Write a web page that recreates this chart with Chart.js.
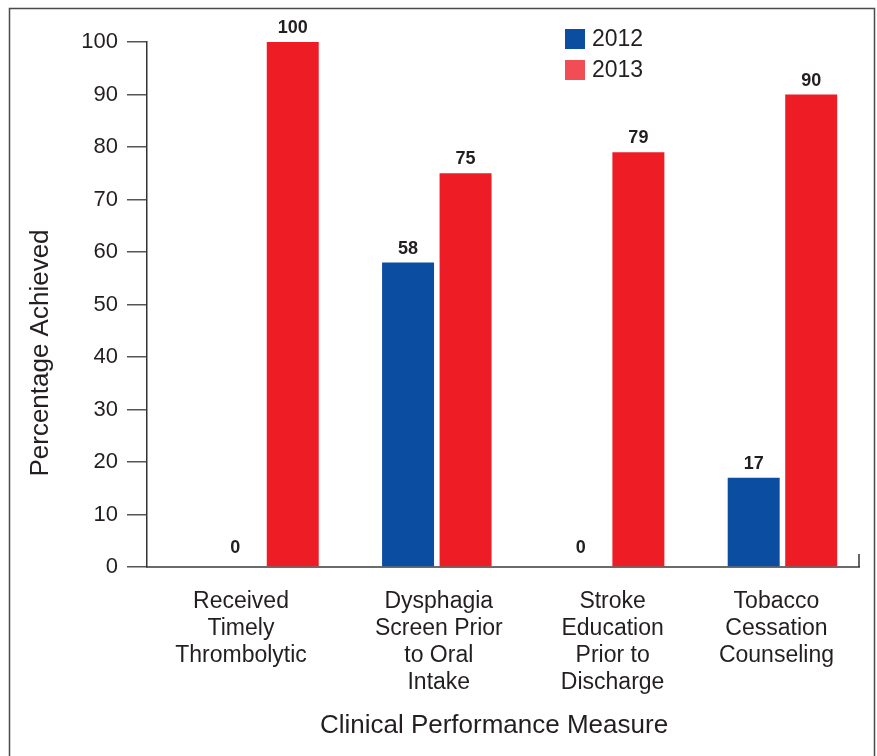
<!DOCTYPE html>
<html>
<head>
<meta charset="utf-8">
<script src="https://cdn.jsdelivr.net/npm/chart.js@4.4.1/dist/chart.umd.min.js"></script>
<style>
  html, body { margin: 0; padding: 0; background: #ffffff; }
  #wrap { width: 877px; height: 756px; position: relative; }
</style>
</head>
<body>
<div id="wrap"><canvas id="c" width="877" height="756"></canvas></div>
<script>
// ---- data ----
const categories = [
  ['Received', 'Timely', 'Thrombolytic'],
  ['Dysphagia', 'Screen Prior', 'to Oral', 'Intake'],
  ['Stroke', 'Education', 'Prior to', 'Discharge'],
  ['Tobacco', 'Cessation', 'Counseling']
];
const seriesNames = ['2012', '2013'];
const values2012 = [0, 58, 0, 17];
const values2013 = [100, 75, 79, 90];
const yTicks = [0, 10, 20, 30, 40, 50, 60, 70, 80, 90, 100];
const yTitle = 'Percentage Achieved';
const xTitle = 'Clinical Performance Measure';

// ---- styles ----
const FONT = "'Liberation Sans', Arial, Helvetica, sans-serif";
const TEXT = '#231f20';
const BLUE = '#0b4da1';
const RED = '#ee1d25';
const LEGEND_COLORS = ['#0c4da2', '#f04d54'];
const labelShift = [-23, 2, 3, -6];

const framePlugin = {
  id: 'frame',
  beforeDraw(chart) {
    const ctx = chart.ctx;
    ctx.save();
    ctx.strokeStyle = '#4a4a4a';
    ctx.lineWidth = 1.5;
    ctx.strokeRect(9.5, 8.5, 865, 770);
    ctx.restore();
    // shift x labels slightly (as in reference layout)
    const xs = chart.scales.x;
    const items = xs.getLabelItems(chart.chartArea);
    if (items && !items._shifted) {
      items.forEach((it, i) => { it.options.translation[0] += (labelShift[i] || 0); });
      items._shifted = true;
    }
  },
  afterDraw(chart) {
    const ctx = chart.ctx;
    const area = chart.chartArea;
    ctx.save();
    // small end tick on x axis
    ctx.strokeStyle = '#333';
    ctx.lineWidth = 1.5;
    ctx.beginPath();
    ctx.moveTo(area.right, area.bottom);
    ctx.lineTo(area.right, area.bottom - 13);
    ctx.stroke();
    // axis titles
    ctx.fillStyle = TEXT;
    ctx.font = '26px ' + FONT;
    ctx.textAlign = 'center';
    ctx.textBaseline = 'alphabetic';
    ctx.fillText(xTitle, 494, 733);
    ctx.translate(48, 353);
    ctx.rotate(-Math.PI / 2);
    ctx.font = '26px ' + FONT;
    ctx.fillText(yTitle, 0, 0);
    ctx.restore();
    // legend
    ctx.save();
    ctx.font = '23px ' + FONT;
    ctx.textAlign = 'left';
    ctx.textBaseline = 'middle';
    seriesNames.forEach((name, i) => {
      const cy = 39 + i * 31;
      ctx.fillStyle = LEGEND_COLORS[i];
      ctx.fillRect(565, cy - 10, 20, 20);
      ctx.fillStyle = TEXT;
      ctx.fillText(name, 592, cy + 1);
    });
    ctx.restore();
  },
  afterDatasetsDraw(chart) {
    const ctx = chart.ctx;
    ctx.save();
    ctx.font = 'bold 18px ' + FONT;
    ctx.fillStyle = TEXT;
    ctx.textAlign = 'center';
    ctx.textBaseline = 'alphabetic';
    chart.data.datasets.forEach((ds, di) => {
      const meta = chart.getDatasetMeta(di);
      meta.data.forEach((bar, i) => {
        const v = ds.data[i];
        const gap = v === 0 ? 14 : 9;
        ctx.fillText(String(v), bar.x, bar.y - gap);
      });
    });
    ctx.restore();
  }
};

new Chart(document.getElementById('c'), {
  type: 'bar',
  data: {
    labels: categories,
    datasets: [
      { label: seriesNames[0], data: values2012, backgroundColor: BLUE, borderWidth: 0,
        categoryPercentage: 0.6655, barPercentage: 0.904 },
      { label: seriesNames[1], data: values2013, backgroundColor: RED, borderWidth: 0,
        categoryPercentage: 0.6655, barPercentage: 0.904 }
    ]
  },
  options: {
    responsive: false,
    animation: false,
    layout: { padding: { top: 42, right: 18, left: 0, bottom: 0 } },
    plugins: { legend: { display: false }, tooltip: { enabled: false }, title: { display: false } },
    scales: {
      x: {
        type: 'category',
        offset: true,
        grid: { display: false, drawTicks: false },
        border: { display: true, color: '#6b6b6b', width: 2 },
        ticks: {
          color: TEXT,
          font: { family: FONT, size: 23, lineHeight: 1.174 },
          padding: 21,
          maxRotation: 0,
          autoSkip: false
        },
        afterBuildTicks(scale) {
          scale._startValue = -0.677;
          scale._valueRange = 4.12;
        },
        afterFit(scale) { scale.height = 756 - 567; }
      },
      y: {
        min: 0,
        max: 100,
        afterBuildTicks(scale) { scale.ticks = yTicks.map(v => ({ value: v })); },
        grid: { drawOnChartArea: false, drawTicks: true, tickLength: 20, color: '#555', lineWidth: 1.5 },
        border: { display: true, color: '#333', width: 1.5 },
        ticks: {
          color: TEXT,
          font: { family: FONT, size: 22 },
          padding: 9
        },
        afterFit(scale) { scale.width = 147; }
      }
    }
  },
  plugins: [framePlugin]
});
</script>
</body>
</html>
